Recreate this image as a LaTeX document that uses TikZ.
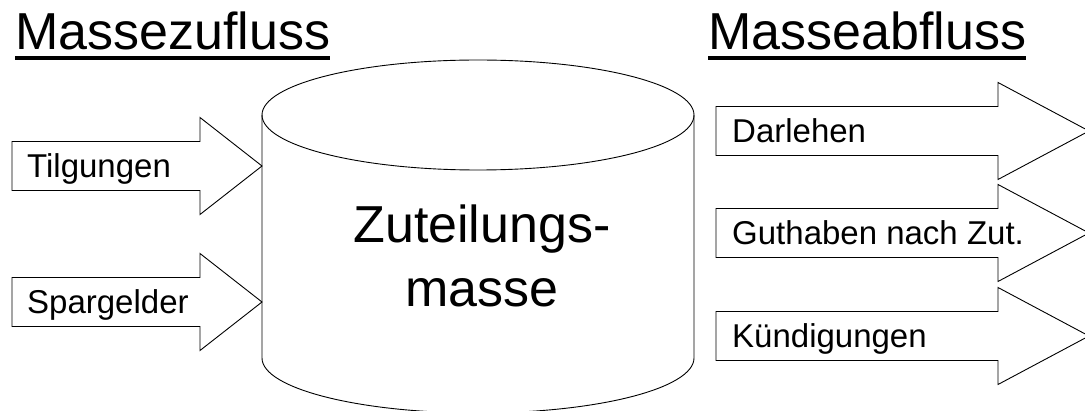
\documentclass[tikz,border=0pt]{standalone}
\usepackage{fontspec}
\setmainfont{Liberation Sans}
\begin{document}
\begin{tikzpicture}[x=1pt,y=1pt,
  outline/.style={draw=black, line width=0.9pt, line join=miter},
  flowlabel/.style={font=\fontsize{33}{40}\selectfont, anchor=base west, inner sep=0pt},
  heading/.style={font=\fontsize{52}{62}\selectfont, anchor=base west, inner sep=0pt},
  bigtext/.style={font=\fontsize{52}{62}\selectfont, anchor=base, inner sep=0pt}]
\useasboundingbox (0,0) rectangle (1085,410);
\begin{scope}
  \clip (0,0) rectangle (1085,410);

  % storage cylinder
  \draw[outline] (262,295) -- (262,52)
    arc[start angle=180, end angle=360, x radius=216, y radius=55] -- (694,295);
  \draw[outline] (478,295) ellipse [x radius=216, y radius=55];
  \node[bigtext] (pool1) at (482,167) {Zuteilungs-};
  \node[bigtext] (pool2) at (482,103) {masse};

  % inflow block arrows
  \foreach \yc in {244,108}
    \draw[outline] (12,{\yc+24.5}) -- (200,{\yc+24.5}) -- (200,{\yc+48.5})
      -- (262,\yc) -- (200,{\yc-48.5}) -- (200,{\yc-24.5}) -- (12,{\yc-24.5}) -- cycle;

  % outflow block arrows
  \foreach \yc in {279,177,74}
    \draw[outline] (716,{\yc+24.5}) -- (998,{\yc+24.5}) -- (998,{\yc+48.5})
      -- (1089,\yc) -- (998,{\yc-48.5}) -- (998,{\yc-24.5}) -- (716,{\yc-24.5}) -- cycle;

  \node[flowlabel] (tilg) at (27,232) {Tilgungen};
  \node[flowlabel] (spar) at (27,96) {Spargelder};
  \node[flowlabel] (darl) at (732,267) {Darlehen};
  \node[flowlabel] (guth) at (732,165) {Guthaben nach Zut.};
  \node[flowlabel] (kuend) at (732,62) {Kündigungen};

  % headings, underlined
  \node[heading] (zufl) at (15,360) {Massezufluss};
  \node[heading] (abfl) at (708,360) {Masseabfluss};
  \draw[line width=4pt] ([yshift=-8pt]zufl.base west) -- ([yshift=-8pt]zufl.base east);
  \draw[line width=4pt] ([yshift=-8pt]abfl.base west) -- ([yshift=-8pt]abfl.base east);
\end{scope}
\end{tikzpicture}
\end{document}
